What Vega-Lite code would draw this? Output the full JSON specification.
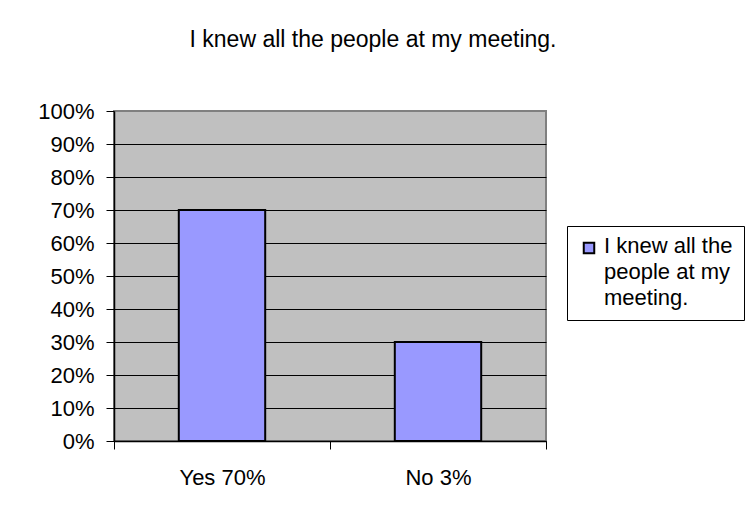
{
  "$schema": "https://vega.github.io/schema/vega-lite/v6.json",
  "width": 432,
  "height": 330,
  "autosize": "none",
  "padding": {"left": 114, "top": 111, "right": 200, "bottom": 75},
  "background": "white",
  "title": {
    "text": "I knew all the people at my meeting.",
    "font": "Liberation Sans",
    "fontSize": 23,
    "fontWeight": "normal",
    "color": "black",
    "anchor": "middle",
    "frame": "group",
    "baseline": "alphabetic",
    "dx": 43,
    "offset": 30
  },
  "data": {
    "values": [
      {"answer": "Yes 70%", "percent": 0.70, "series": "I knew all the people at my meeting."},
      {"answer": "No 3%", "percent": 0.30, "series": "I knew all the people at my meeting."}
    ]
  },
  "mark": {"type": "bar", "stroke": "black", "strokeWidth": 2, "width": {"band": 0.4}},
  "encoding": {
    "x": {
      "field": "answer",
      "type": "nominal",
      "sort": null,
      "scale": {"paddingInner": 0, "paddingOuter": 0},
      "axis": {
        "title": null,
        "labelAngle": 0,
        "tickBand": "extent",
        "domainColor": "black",
        "domainWidth": 1.5,
        "tickColor": "black",
        "tickSize": 8,
        "labelPadding": 18,
        "labelFont": "Liberation Sans",
        "labelFontSize": 22,
        "labelColor": "black",
        "grid": false
      }
    },
    "y": {
      "field": "percent",
      "type": "quantitative",
      "scale": {"domain": [0, 1], "nice": false},
      "axis": {
        "title": null,
        "format": ".0%",
        "values": [0, 0.1, 0.2, 0.3, 0.4, 0.5, 0.6, 0.7, 0.8, 0.9, 1],
        "grid": true,
        "gridColor": {"condition": {"test": "datum.value == 1", "value": "#808080"}, "value": "black"},
        "gridWidth": 1,
        "gridOpacity": 1,
        "domainColor": "black",
        "domainWidth": 1.5,
        "tickColor": "black",
        "tickSize": 8,
        "labelPadding": 12,
        "labelFont": "Liberation Sans",
        "labelFontSize": 22,
        "labelColor": "black"
      }
    },
    "fill": {
      "field": "series",
      "type": "nominal",
      "scale": {"range": ["#9999FF"]},
      "legend": {
        "title": null,
        "orient": "none",
        "legendX": 453,
        "legendY": 115,
        "strokeColor": "black",
        "fillColor": "white",
        "padding": 11,
        "symbolType": "square",
        "symbolSize": 110,
        "symbolStrokeColor": "black",
        "symbolStrokeWidth": 2,
        "symbolOpacity": 1,
        "labelFont": "Liberation Sans",
        "labelFontSize": 22,
        "labelColor": "black",
        "labelLimit": 300,
        "labelOffset": 4,
        "labelBaseline": "top",
        "labelExpr": "['I knew all the', 'people at my', 'meeting.']",
        "encode": {
          "labels": {"update": {"dy": {"value": -12}, "lineHeight": {"value": 26}}}
        }
      }
    }
  },
  "config": {
    "view": {"fill": "#C0C0C0", "stroke": "#808080", "strokeWidth": 2}
  }
}
